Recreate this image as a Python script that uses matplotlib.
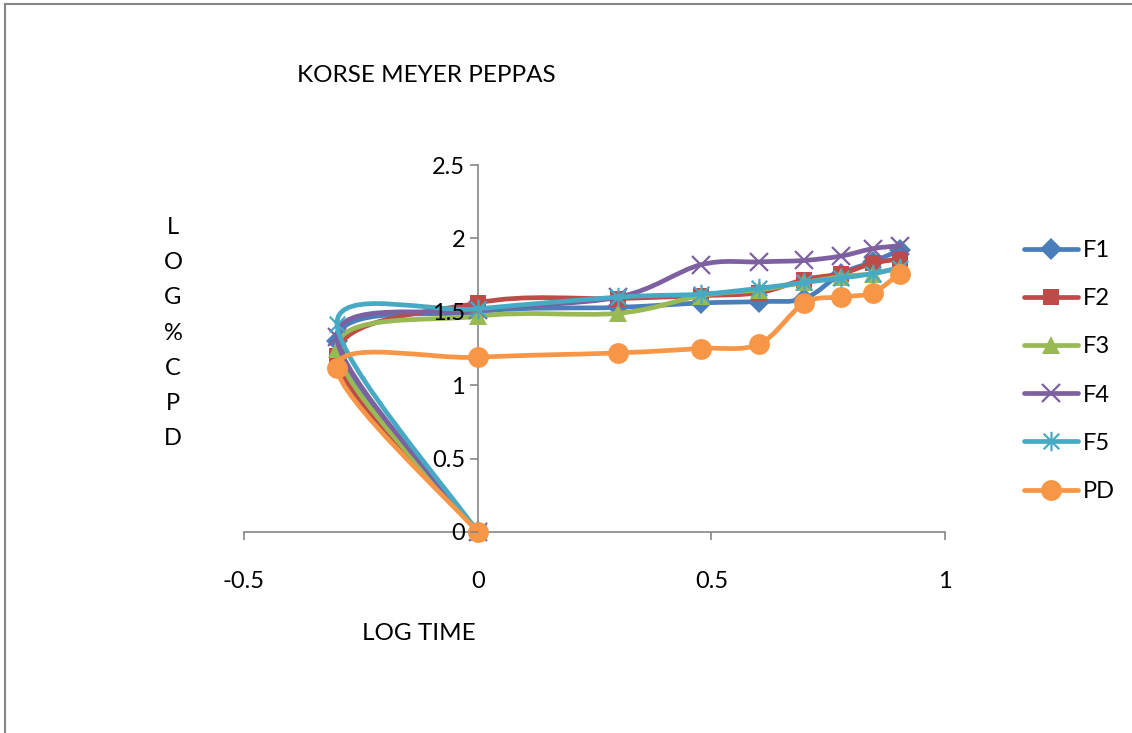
import matplotlib
matplotlib.use('Agg')
import matplotlib.pyplot as plt
import numpy as np
from matplotlib.path import Path
from matplotlib.patches import PathPatch
from matplotlib.lines import Line2D
from matplotlib.ticker import FuncFormatter

plt.rcParams['font.family'] = ['Lato', 'DejaVu Sans']

# log time (first point is the origin, then the time points)
log_time = [0, -0.301, 0, 0.301, 0.477, 0.602, 0.699, 0.778, 0.845, 0.903]

F1 = [0, 1.30, 1.50, 1.53, 1.56, 1.57, 1.59, 1.76, 1.84, 1.92]
F2 = [0, 1.20, 1.56, 1.59, 1.61, 1.63, 1.72, 1.76, 1.83, 1.86]
F3 = [0, 1.25, 1.47, 1.49, 1.61, 1.65, 1.70, 1.74, 1.76, 1.80]
F4 = [0, 1.33, 1.51, 1.60, 1.82, 1.84, 1.85, 1.88, 1.93, 1.95]
F5 = [0, 1.42, 1.52, 1.60, 1.62, 1.66, 1.70, 1.73, 1.76, 1.80]
PD = [0, 1.12, 1.19, 1.22, 1.25, 1.28, 1.56, 1.60, 1.63, 1.76]

names = ['F1', 'F2', 'F3', 'F4', 'F5', 'PD']
series = [F1, F2, F3, F4, F5, PD]
colors = ['#4A7EBB', '#BE4B48', '#98B954', '#7D60A0', '#46AAC5', '#F79646']

# excel style star: vertical bar plus an x
star = Path([(0, -1), (0, 1), (-0.8, -0.8), (0.8, 0.8), (-0.8, 0.8), (0.8, -0.8)],
            [Path.MOVETO, Path.LINETO, Path.MOVETO, Path.LINETO, Path.MOVETO, Path.LINETO])
markers = ['D', 's', '^', 'x', star, 'o']
msizes = [11, 11, 13, 13, 14, 15]


def smooth_path(xs, ys):
    pts = np.column_stack([xs, ys]).astype(float)
    n = len(pts)
    verts = [pts[0]]
    codes = [Path.MOVETO]
    for i in range(n - 1):
        p0 = pts[i - 1] if i > 0 else pts[i]
        p1 = pts[i]
        p2 = pts[i + 1]
        p3 = pts[i + 2] if i + 2 < n else pts[i + 1]
        verts += [p1 + (p2 - p0) / 6, p2 - (p3 - p1) / 6, p2]
        codes += [Path.CURVE4] * 3
    return Path(verts, codes)


fig = plt.figure(figsize=(11.32, 7.33), dpi=100)
ax = fig.add_axes([244 / 1132, 1 - 532 / 733, 701 / 1132, 367 / 733])

handles = []
for name, ys, c, m, ms in zip(names, series, colors, markers, msizes):
    ax.add_patch(PathPatch(smooth_path(log_time, ys), fill=False, edgecolor=c,
                           lw=3.4, capstyle='round', joinstyle='round', zorder=3))
    mew = 1.6 if (isinstance(m, Path) or m == 'x') else 0
    ax.plot(log_time, ys, linestyle='none', marker=m, ms=ms, color=c,
            mec=c, mew=mew, zorder=3, clip_on=False)
    handles.append(Line2D([], [], color=c, lw=3.4, marker=m, ms=ms, mec=c,
                          mew=mew, solid_capstyle='round'))

ax.set_xlim(-0.5, 1)
ax.set_ylim(0, 2.5)
ax.set_xticks([-0.5, 0, 0.5, 1])
ax.set_yticks([0, 0.5, 1, 1.5, 2, 2.5])
fmt = FuncFormatter(lambda v, p: '%g' % v)
ax.xaxis.set_major_formatter(fmt)
ax.yaxis.set_major_formatter(fmt)

for s in ['top', 'right']:
    ax.spines[s].set_visible(False)
ax.spines['left'].set_position(('data', 0))
ax.spines['bottom'].set_position(('data', 0))
for s in ['left', 'bottom']:
    ax.spines[s].set_color('#868686')
    ax.spines[s].set_linewidth(1.2)
ax.tick_params(axis='both', direction='out', length=6, width=1.2,
               color='#868686', labelsize=17, labelcolor='black')
ax.tick_params(axis='x', pad=22)
ax.tick_params(axis='y', pad=3)
# y tick labels sit on top of the curves, as in the original
ax.yaxis.set_zorder(5)

fig.text(426 / 1132, 1 - 75 / 733, 'KORSE MEYER PEPPAS', ha='center', va='center',
         fontsize=17.5)
fig.text(419 / 1132, 1 - 634 / 733, 'LOG TIME', ha='center', va='center',
         fontsize=17.5)
fig.text(173 / 1132, 1 - 333 / 733, '\n'.join('LOG%CPD'), ha='center', va='center',
         fontsize=17, linespacing=1.84)

fig.legend(handles, names, loc='center left', bbox_to_anchor=(1012 / 1132, 1 - 371 / 733),
           frameon=False, fontsize=17, handlelength=2.3, handletextpad=0.2,
           labelspacing=1.15, borderpad=0)

# outer chart border (top and left edges visible)
fig.add_artist(Line2D([5 / 1132, 1], [1 - 4 / 733, 1 - 4 / 733], color='#868686',
                      lw=1.5, transform=fig.transFigure))
fig.add_artist(Line2D([5 / 1132, 5 / 1132], [0, 1 - 4 / 733], color='#868686',
                      lw=1.5, transform=fig.transFigure))

fig.savefig('out.png', dpi=100)
